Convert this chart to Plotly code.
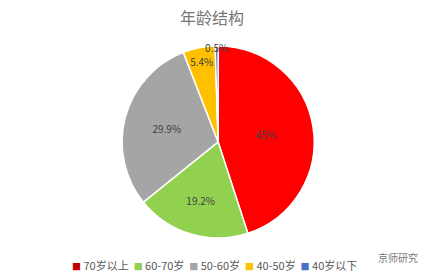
import plotly.graph_objects as go

categories = ["70岁以上", "60-70岁", "50-60岁", "40-50岁", "40岁以下"]
values = [45.0, 19.2, 29.9, 5.4, 0.5]
labels_text = ["45%", "19.2%", "29.9%", "5.4%", "0.5%"]
colors = ["#FF0000", "#92D050", "#A5A5A5", "#FFC000", "#4472C4"]
legend_colors = ["#C00000", "#92D050", "#A5A5A5", "#FFC000", "#4472C4"]

fig = go.Figure(go.Pie(
    labels=categories,
    values=values,
    text=labels_text,
    textinfo="text",
    textposition="inside",
    insidetextorientation="horizontal",
    sort=False,
    direction="clockwise",
    rotation=0,
    marker=dict(colors=colors, line=dict(color="white", width=1.5)),
    textfont=dict(family="Noto Sans CJK SC, DejaVu Sans", size=10, color="#404040"),
    domain=dict(x=[0.288, 0.741], y=[0.144, 0.835]),
    hoverinfo="label+percent",
    showlegend=False,
))

legend_html = "&nbsp;&nbsp;".join(
    f'<span style="color:{c};font-size:9px">■</span> {name}'
    for name, c in zip(categories, legend_colors)
)

fig.update_layout(
    width=424, height=278,
    margin=dict(l=0, r=0, t=0, b=0),
    paper_bgcolor="white",
    plot_bgcolor="white",
    title=dict(text="年龄结构", x=0.5, xanchor="center", y=0.935, yanchor="middle",
               font=dict(family="Noto Sans CJK SC", size=16, color="#767676")),
    uniformtext=dict(minsize=10, mode="show"),
    annotations=[
        dict(text=legend_html, x=0.505, y=0.045, xref="paper", yref="paper",
             xanchor="center", yanchor="middle", showarrow=False,
             font=dict(family="Noto Sans CJK SC", size=11, color="#595959")),
        dict(text="京师研究", x=0.99, y=0.075, xref="paper", yref="paper",
             xanchor="right", yanchor="middle", showarrow=False,
             font=dict(family="Noto Sans CJK SC", size=10, color="#7a7a7a")),
    ],
)

fig.write_html("out.html")
